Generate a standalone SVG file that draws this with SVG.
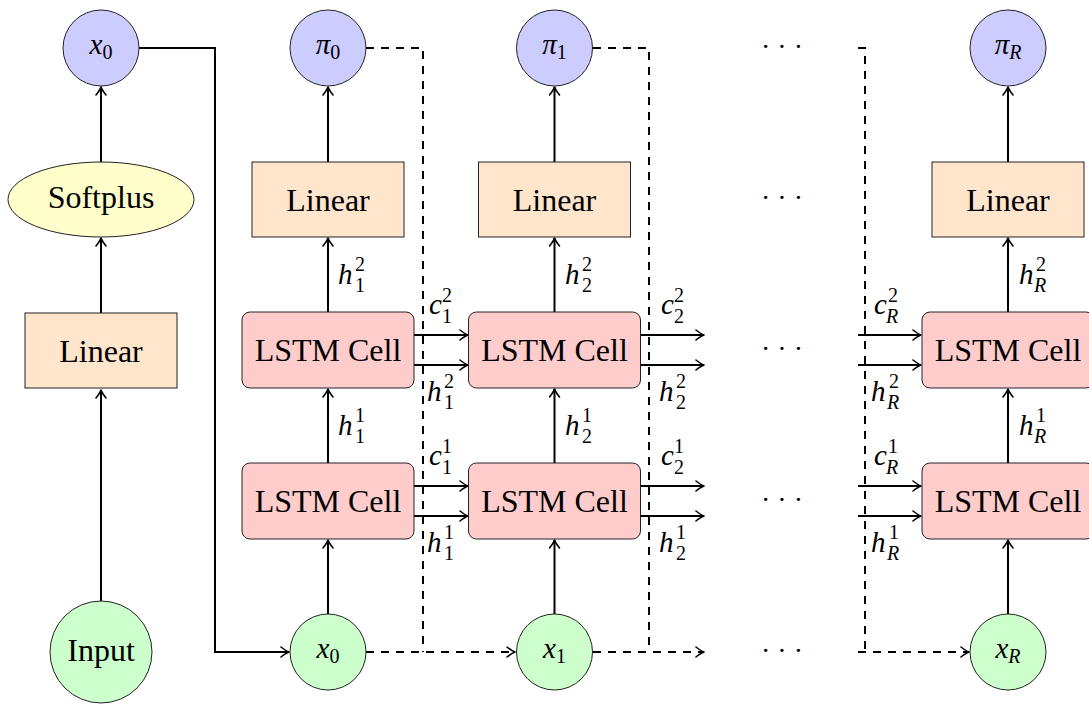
<svg xmlns="http://www.w3.org/2000/svg" width="1089" height="704" viewBox="0 0 1089 704" font-family="'Liberation Serif', 'Times New Roman', Tinos, 'DejaVu Serif', serif">
<style>
.nd{stroke:#222;stroke-width:1}
.blue{fill:#ccccff}.green{fill:#ccffcc}.orange{fill:#ffe5cc}.red{fill:#ffcccc}.yellow{fill:#ffffcc}
.t{font-size:32px;fill:#000}
.m{font-style:italic;font-size:29px;fill:#000}
.s{font-style:normal;font-size:20px}
.si{font-style:italic;font-size:20px}
.c{fill:none;stroke:#000;stroke-width:2}
.d{fill:none;stroke:#000;stroke-width:2;stroke-dasharray:8 7}
.a{marker-end:url(#ar)}
.dots{font-size:28px;fill:#000}
</style>
<defs>
<marker id="ar" viewBox="-10 -6 12 12" refX="0" refY="0" markerWidth="12" markerHeight="12" markerUnits="userSpaceOnUse" orient="auto">
<path d="M-8,-5 Q-3,-1 0,0 Q-3,1 -8,5" fill="none" stroke="#000" stroke-width="1.6" stroke-linecap="round" stroke-linejoin="round"/>
</marker>
</defs>

<g id="connectors">
<path class="c a" d="M101,601 V390"/>
<path class="c a" d="M101,313 V238"/>
<path class="c a" d="M101,162 V87"/>
<path class="c a" d="M139,48 H215 V652 H289"/>

<path class="c a" d="M328,614 V540"/>
<path class="c a" d="M328,463 V389"/>
<path class="c a" d="M328,312 V238"/>
<path class="c a" d="M328,162 V87"/>

<path class="c a" d="M554.5,614 V540"/>
<path class="c a" d="M554.5,463 V389"/>
<path class="c a" d="M554.5,312 V238"/>
<path class="c a" d="M554.5,162 V87"/>

<path class="c a" d="M1008,614 V540"/>
<path class="c a" d="M1008,463 V389"/>
<path class="c a" d="M1008,312 V238"/>
<path class="c a" d="M1008,162 V87"/>

<path class="c a" d="M414,335 H468"/>
<path class="c a" d="M414,365 H468"/>
<path class="c a" d="M414,486 H468"/>
<path class="c a" d="M414,516 H468"/>

<path class="c a" d="M641,335 H704"/>
<path class="c a" d="M641,365 H704"/>
<path class="c a" d="M641,486 H704"/>
<path class="c a" d="M641,516 H704"/>

<path class="c a" d="M858,335 H921"/>
<path class="c a" d="M858,365 H921"/>
<path class="c a" d="M858,486 H921"/>
<path class="c a" d="M858,516 H921"/>

<path class="d" d="M366,48 H423 V652"/>
<path class="d a" d="M366,652 H515"/>
<path class="d" d="M593,48 H649 V652"/>
<path class="d a" d="M593,652 H704"/>
<path class="d" d="M858,48 H865 V652"/>
<path class="d a" d="M858,652 H969"/>
</g>

<g id="x0_top"><circle class="nd blue" cx="101" cy="48" r="38"/><text class="m" x="101" y="54" text-anchor="middle">x<tspan class="s" dy="5">0</tspan></text></g>
<g id="softplus"><ellipse class="nd yellow" cx="101" cy="199.5" rx="93" ry="37.5"/><text class="t" x="101" y="208" text-anchor="middle">Softplus</text></g>
<g id="linear_left"><rect class="nd orange" x="25" y="313" width="152" height="75"/><text class="t" x="101" y="361.5" text-anchor="middle">Linear</text></g>
<g id="input"><circle class="nd green" cx="101" cy="652" r="51"/><text class="t" x="101" y="661" text-anchor="middle">Input</text></g>

<g id="pi0"><circle class="nd blue" cx="328" cy="48" r="38"/><text class="m" x="328" y="54" text-anchor="middle">π<tspan class="s" dy="5">0</tspan></text></g>
<g id="linear0"><rect class="nd orange" x="252" y="162" width="152" height="75"/><text class="t" x="328" y="210.5" text-anchor="middle">Linear</text></g>
<g id="lstm0_2"><rect class="nd red" x="242" y="312" width="172" height="76" rx="8"/><text class="t" x="328" y="361" text-anchor="middle">LSTM Cell</text></g>
<g id="lstm0_1"><rect class="nd red" x="242" y="463" width="172" height="76" rx="8"/><text class="t" x="328" y="512" text-anchor="middle">LSTM Cell</text></g>
<g id="x0"><circle class="nd green" cx="328" cy="652" r="38"/><text class="m" x="328" y="658" text-anchor="middle">x<tspan class="s" dy="5">0</tspan></text></g>

<g id="pi1"><circle class="nd blue" cx="554.5" cy="48" r="38"/><text class="m" x="554.5" y="54" text-anchor="middle">π<tspan class="s" dy="5">1</tspan></text></g>
<g id="linear1"><rect class="nd orange" x="478.5" y="162" width="152" height="75"/><text class="t" x="554.5" y="210.5" text-anchor="middle">Linear</text></g>
<g id="lstm1_2"><rect class="nd red" x="468.5" y="312" width="172" height="76" rx="8"/><text class="t" x="554.5" y="361" text-anchor="middle">LSTM Cell</text></g>
<g id="lstm1_1"><rect class="nd red" x="468.5" y="463" width="172" height="76" rx="8"/><text class="t" x="554.5" y="512" text-anchor="middle">LSTM Cell</text></g>
<g id="x1"><circle class="nd green" cx="554.5" cy="652" r="38"/><text class="m" x="554.5" y="658" text-anchor="middle">x<tspan class="s" dy="5">1</tspan></text></g>

<g id="piR"><circle class="nd blue" cx="1008" cy="48" r="38"/><text class="m" x="1008" y="54" text-anchor="middle">π<tspan class="si" dy="5">R</tspan></text></g>
<g id="linearR"><rect class="nd orange" x="932" y="162" width="152" height="75"/><text class="t" x="1008" y="210.5" text-anchor="middle">Linear</text></g>
<g id="lstmR_2"><rect class="nd red" x="922" y="312" width="172" height="76" rx="8"/><text class="t" x="1008" y="361" text-anchor="middle">LSTM Cell</text></g>
<g id="lstmR_1"><rect class="nd red" x="922" y="463" width="172" height="76" rx="8"/><text class="t" x="1008" y="512" text-anchor="middle">LSTM Cell</text></g>
<g id="xR"><circle class="nd green" cx="1008" cy="652" r="38"/><text class="m" x="1008" y="658" text-anchor="middle">x<tspan class="si" dy="5">R</tspan></text></g>

<g id="labels">
<text class="m"><tspan x="338" y="284">h</tspan><tspan class="s" x="355" y="271">2</tspan><tspan class="s" x="355" y="292">1</tspan></text>
<text class="m"><tspan x="338" y="435">h</tspan><tspan class="s" x="355" y="422">1</tspan><tspan class="s" x="355" y="443">1</tspan></text>
<text class="m"><tspan x="565" y="284">h</tspan><tspan class="s" x="582" y="271">2</tspan><tspan class="s" x="582" y="292">2</tspan></text>
<text class="m"><tspan x="565" y="435">h</tspan><tspan class="s" x="582" y="422">1</tspan><tspan class="s" x="582" y="443">2</tspan></text>
<text class="m"><tspan x="1019" y="284">h</tspan><tspan class="s" x="1036" y="271">2</tspan><tspan class="si" x="1034" y="292">R</tspan></text>
<text class="m"><tspan x="1019" y="435">h</tspan><tspan class="s" x="1036" y="422">1</tspan><tspan class="si" x="1034" y="443">R</tspan></text>

<text class="m"><tspan x="429" y="314">c</tspan><tspan class="s" x="442" y="302">2</tspan><tspan class="s" x="442" y="323">1</tspan></text>
<text class="m"><tspan x="427" y="401">h</tspan><tspan class="s" x="444" y="388">2</tspan><tspan class="s" x="444" y="409">1</tspan></text>
<text class="m"><tspan x="429" y="465">c</tspan><tspan class="s" x="442" y="453">1</tspan><tspan class="s" x="442" y="474">1</tspan></text>
<text class="m"><tspan x="427" y="552">h</tspan><tspan class="s" x="444" y="539">1</tspan><tspan class="s" x="444" y="560">1</tspan></text>

<text class="m"><tspan x="661" y="314">c</tspan><tspan class="s" x="674" y="302">2</tspan><tspan class="s" x="674" y="323">2</tspan></text>
<text class="m"><tspan x="659" y="401">h</tspan><tspan class="s" x="676" y="388">2</tspan><tspan class="s" x="676" y="409">2</tspan></text>
<text class="m"><tspan x="661" y="465">c</tspan><tspan class="s" x="674" y="453">1</tspan><tspan class="s" x="674" y="474">2</tspan></text>
<text class="m"><tspan x="659" y="552">h</tspan><tspan class="s" x="676" y="539">1</tspan><tspan class="s" x="676" y="560">2</tspan></text>

<text class="m"><tspan x="874" y="314">c</tspan><tspan class="s" x="888" y="302">2</tspan><tspan class="si" x="886" y="323">R</tspan></text>
<text class="m"><tspan x="871" y="401">h</tspan><tspan class="s" x="889" y="388">2</tspan><tspan class="si" x="887" y="409">R</tspan></text>
<text class="m"><tspan x="874" y="465">c</tspan><tspan class="s" x="888" y="453">1</tspan><tspan class="si" x="886" y="474">R</tspan></text>
<text class="m"><tspan x="871" y="552">h</tspan><tspan class="s" x="889" y="539">1</tspan><tspan class="si" x="887" y="560">R</tspan></text>
</g>

<g id="ellipsis">
<text class="dots" x="782" y="56" text-anchor="middle">· · ·</text>
<text class="dots" x="782" y="207" text-anchor="middle">· · ·</text>
<text class="dots" x="782" y="358" text-anchor="middle">· · ·</text>
<text class="dots" x="782" y="509" text-anchor="middle">· · ·</text>
<text class="dots" x="782" y="660" text-anchor="middle">· · ·</text>
</g>
</svg>
